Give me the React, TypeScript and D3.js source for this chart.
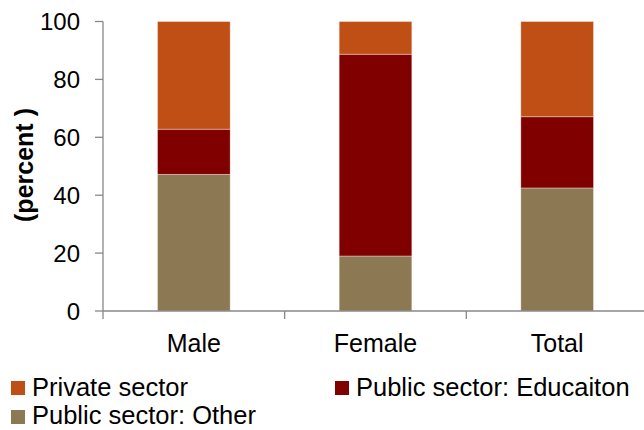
import React from "react";
import * as d3 from "d3";

const categories = ["Male", "Female", "Total"];
const seriesNames = ["Public sector: Other", "Public sector: Educaiton", "Private sector"];
const publicOther = [47.2, 19.0, 42.5];
const publicEducation = [15.6, 69.7, 24.6];
const privateSector = [37.2, 11.3, 32.9];
const yTicks = [0, 20, 40, 60, 80, 100];
const colors = ["#8C7853", "#800000", "#C04F15"];

const W = 644;
const H = 430;
const margin = { left: 103, right: -4, top: 21.5, bottom: 119 };
const FONT = "'Liberation Sans', Arial, sans-serif";

export default function App() {
  const x = d3
    .scaleBand<string>()
    .domain(categories)
    .range([margin.left, W - margin.right])
    .paddingInner(0.6)
    .paddingOuter(0.3);
  const y = d3.scaleLinear().domain([0, 100]).range([H - margin.bottom, margin.top]);

  const rows = categories.map((c, i) => ({
    cat: c,
    other: publicOther[i],
    edu: publicEducation[i],
    priv: privateSector[i],
  }));
  const stack = d3.stack<any>().keys(["other", "edu", "priv"]);
  const layers = stack(rows);

  const y0 = y(0);
  const step = x.step();
  const xTickPositions = [margin.left, ...categories.slice(1).map((c) => (x(c) as number) - (step - x.bandwidth()) / 2), margin.left + step * 3];

  const legend = [
    { name: seriesNames[2], color: colors[2], x: 11, y: 381, ty: 395.5 },
    { name: seriesNames[1], color: colors[1], x: 335, y: 381, ty: 395.5 },
    { name: seriesNames[0], color: colors[0], x: 11, y: 410, ty: 424 },
  ];

  return (
    <div style={{ position: "fixed", left: 0, top: 0 }}>
      <svg width={W} height={H} style={{ display: "block", background: "#fff" }}>
        {layers.map((layer, li) => (
          <g key={li}>
            {layer.map((d: any, i: number) => (
              <rect
                key={i}
                x={x(d.data.cat)}
                y={y(d[1])}
                width={x.bandwidth()}
                height={y(d[0]) - y(d[1])}
                fill={colors[li]}
                stroke="rgba(255,255,255,0.45)"
                strokeWidth={0.8}
              />
            ))}
          </g>
        ))}
        {/* y axis */}
        <line x1={margin.left} x2={margin.left} y1={y(100)} y2={y0} stroke="#888" strokeWidth={1.3} />
        {yTicks.map((t) => (
          <g key={t}>
            <line x1={margin.left - 8} x2={margin.left} y1={y(t)} y2={y(t)} stroke="#888" strokeWidth={1.3} />
            <text
              x={80}
              y={y(t)}
              dy="0.36em"
              textAnchor="end"
              fontFamily={FONT}
              fontSize={24}
              fill="#000"
            >
              {t}
            </text>
          </g>
        ))}
        {/* x axis */}
        <line x1={margin.left} x2={W} y1={y0} y2={y0} stroke="#888" strokeWidth={1.3} />
        {xTickPositions.map((p, i) => (
          <line key={i} x1={p} x2={p} y1={y0} y2={y0 + 8} stroke="#888" strokeWidth={1.3} />
        ))}
        {categories.map((c) => (
          <text
            key={c}
            x={(x(c) as number) + x.bandwidth() / 2}
            y={352}
            textAnchor="middle"
            fontFamily={FONT}
            fontSize={25}
            fill="#000"
          >
            {c}
          </text>
        ))}
        <text
          transform={`translate(33,165) rotate(-90)`}
          textAnchor="middle"
          fontFamily={FONT}
          fontSize={25}
          fontWeight="bold"
          fill="#000"
        >
          (percent )
        </text>
        {legend.map((l) => (
          <g key={l.name}>
            <rect x={l.x} y={l.y} width={14} height={14} fill={l.color} />
            <text x={l.x + 21} y={l.ty} fontFamily={FONT} fontSize={25.5} fill="#000">
              {l.name}
            </text>
          </g>
        ))}
      </svg>
    </div>
  );
}
